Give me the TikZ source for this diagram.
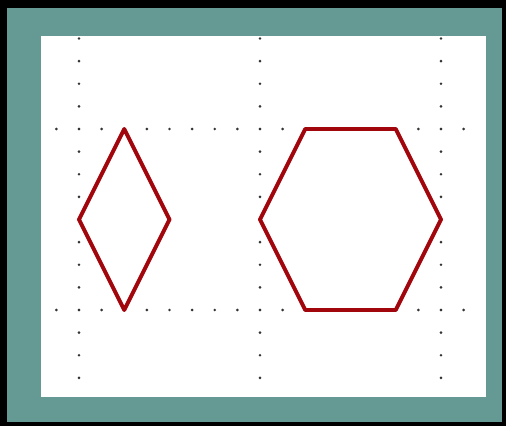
\documentclass[tikz,border=0pt]{standalone}
\usepackage{tikz}
\usetikzlibrary{calc}
\definecolor{matteal}{RGB}{101,153,148}
\definecolor{figred}{RGB}{160,6,12}
\begin{document}
\begin{tikzpicture}[
  x=4cm, y=4cm,
  outer/.style={fill=black},
  mat/.style={fill=matteal},
  sheet/.style={fill=white},
  gdot/.style={fill=black!80},
  figline/.style={draw=figred, line width=2.5pt, line join=round}]
\useasboundingbox (-0.4365,-0.6409) rectangle (2.3591,1.7127);
% frame: black edge, teal mat, white sheet
\fill[outer] (-0.4365,-0.6409) rectangle (2.3591,1.7127);
\fill[mat]   (-0.3978,-0.6188) rectangle (2.3370,1.6685);
\fill[sheet] (-0.2099,-0.4807) rectangle (2.2486,1.5138);
% dotted guide lines
\foreach \gx in {0,1,2}
  \foreach \k in {-3,...,12}
    \fill[gdot] (\gx,\k/8) circle (0.9pt);
\foreach \gy in {0,1}
  \foreach \k in {-1,...,17}
    \fill[gdot] (\k/8,\gy) circle (0.9pt);
% diamond
\coordinate (dtop) at (0.25,1);
\coordinate (dright) at (0.5,0.5);
\coordinate (dbot) at (0.25,0);
\coordinate (dleft) at (0,0.5);
\draw[figline] (dtop) -- (dright) -- (dbot) -- (dleft) -- cycle;
% hexagon
\coordinate (hw) at (1,0.5);
\coordinate (hnw) at (1.25,1);
\coordinate (hne) at (1.75,1);
\coordinate (he) at (2,0.5);
\coordinate (hse) at (1.75,0);
\coordinate (hsw) at (1.25,0);
\draw[figline] (hw) -- (hnw) -- (hne) -- (he) -- (hse) -- (hsw) -- cycle;
\end{tikzpicture}
\end{document}
